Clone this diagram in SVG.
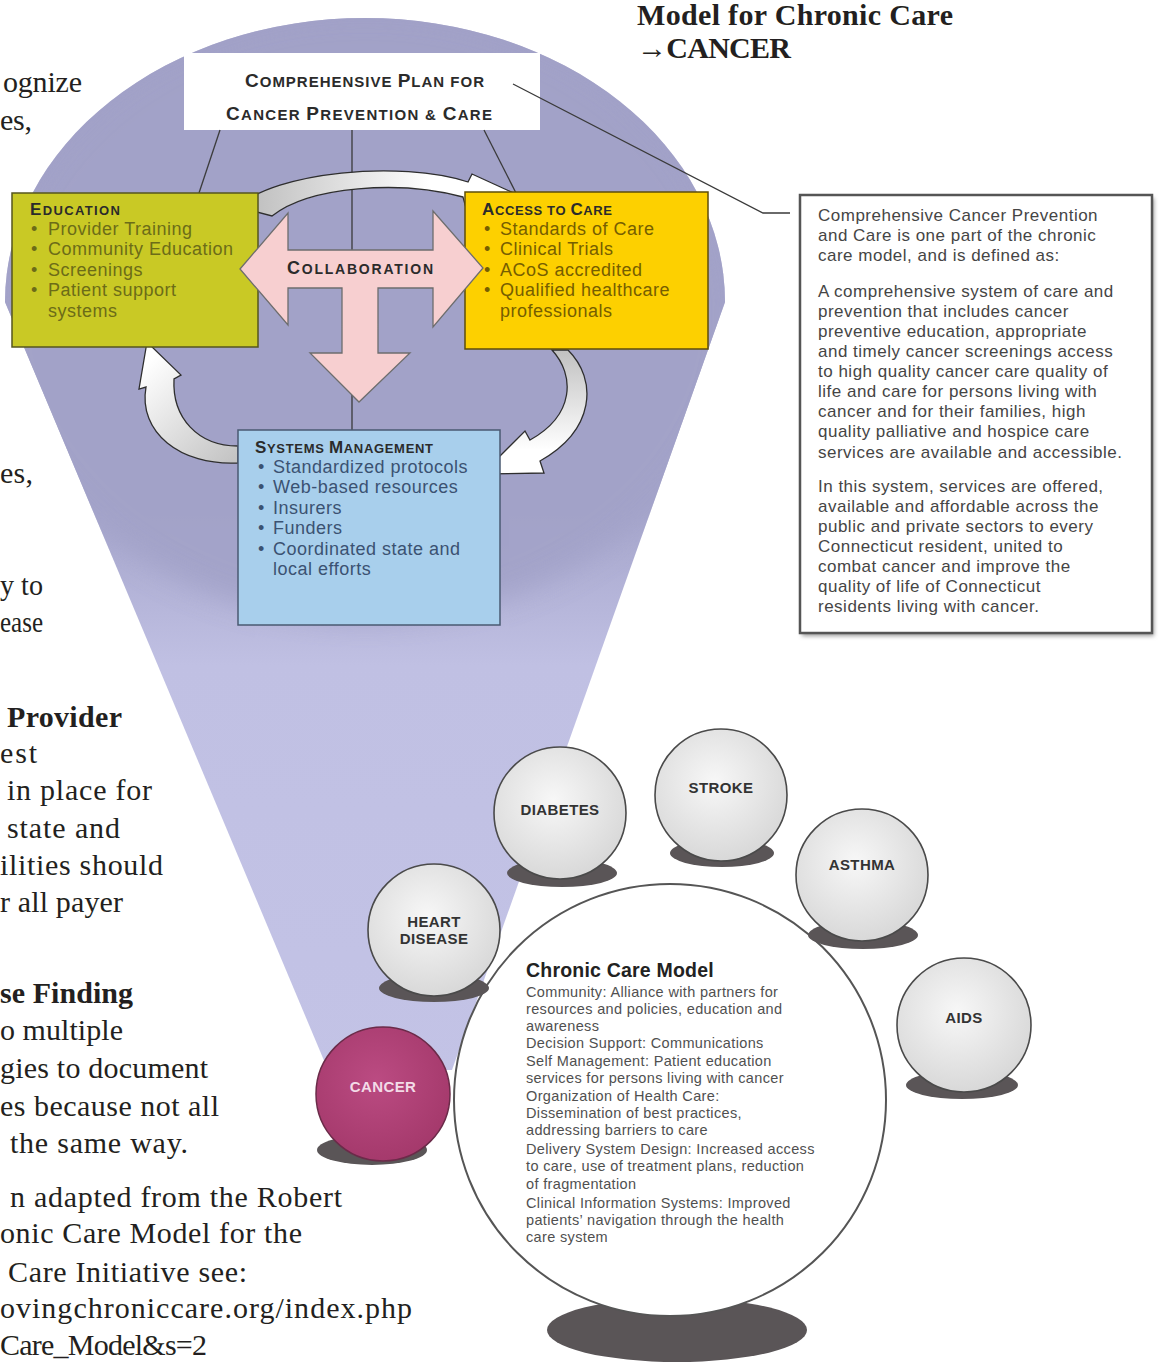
<svg xmlns="http://www.w3.org/2000/svg" width="1160" height="1364" viewBox="0 0 1160 1364">
<defs>
  <linearGradient id="coneGrad" gradientUnits="userSpaceOnUse" x1="0" y1="14" x2="0" y2="1100">
    <stop offset="0" stop-color="#a09fc6"/>
    <stop offset="0.45" stop-color="#a5a5cb"/>
    <stop offset="0.6" stop-color="#c0c0e3"/>
    <stop offset="1" stop-color="#c3c3e6"/>
  </linearGradient>
  <clipPath id="coneClip"><path d="M5,302 A360,284 0 0 1 725,302 L452,1070 L328,1070 Z"/></clipPath>
  <filter id="soft" x="-20%" y="-20%" width="140%" height="140%"><feGaussianBlur stdDeviation="14"/></filter>
  <filter id="sh" x="-20%" y="-20%" width="140%" height="140%"><feGaussianBlur stdDeviation="2"/></filter>
  <radialGradient id="ball" cx="0.45" cy="0.4" r="0.65">
    <stop offset="0" stop-color="#f7f7f7"/>
    <stop offset="1" stop-color="#d6d6d6"/>
  </radialGradient>
  <radialGradient id="cancerBall" cx="0.45" cy="0.4" r="0.65">
    <stop offset="0" stop-color="#bb4b82"/>
    <stop offset="1" stop-color="#a3386a"/>
  </radialGradient>
  <linearGradient id="gA" gradientUnits="userSpaceOnUse" x1="245" y1="0" x2="430" y2="0">
    <stop offset="0" stop-color="#bdbdbd"/>
    <stop offset="1" stop-color="#ffffff"/>
  </linearGradient>
  <linearGradient id="gB" gradientUnits="userSpaceOnUse" x1="0" y1="352" x2="0" y2="450">
    <stop offset="0" stop-color="#c2c2c2"/>
    <stop offset="1" stop-color="#ffffff"/>
  </linearGradient>
  <linearGradient id="gC" gradientUnits="userSpaceOnUse" x1="238" y1="455" x2="150" y2="360">
    <stop offset="0" stop-color="#c4c4c4"/>
    <stop offset="1" stop-color="#ffffff"/>
  </linearGradient>
</defs>
<style>
  .body{font-family:"Liberation Serif","Times New Roman",serif;font-size:30px;fill:#231f20}
  .b{font-weight:bold}
  .sc{font-family:"Liberation Sans",Arial,sans-serif;font-weight:bold;fill:#2b2b2b}
  .item{font-family:"Liberation Sans",Arial,sans-serif;font-size:18px;letter-spacing:0.5px}
  .edu{fill:#6c6c18}
  .acc{fill:#765e00}
  .sys{fill:#3b5272}
  .def{font-family:"Liberation Sans",Arial,sans-serif;font-size:17px;letter-spacing:0.5px;fill:#454545}
  .ccm{font-family:"Liberation Sans",Arial,sans-serif;font-size:14.5px;letter-spacing:0.35px;fill:#505050}
  .lbl{font-family:"Liberation Sans",Arial,sans-serif;font-size:15px;font-weight:bold;letter-spacing:0.4px;fill:#333;text-anchor:middle}
  .ln{stroke:#3a3a3a;stroke-width:1.3;fill:none}
  .shadow{fill:#5a5557}
  .disc{fill:url(#ball);stroke:#4a4a4a;stroke-width:1.6}
  .carr{stroke:#2e2e2e;stroke-width:1.3}
</style>

<!-- left body text fragments -->
<g id="body-text">
  <text class="body" x="3" y="92" textLength="79">ognize</text>
  <text class="body" x="0" y="130" textLength="32">es,</text>
  <text class="body" x="0" y="483" textLength="33">es,</text>
  <text class="body" x="0" y="595" textLength="43" lengthAdjust="spacingAndGlyphs">y to</text>
  <text class="body" x="0" y="632" textLength="43" lengthAdjust="spacingAndGlyphs">ease</text>
  <text class="body b" x="7" y="727" textLength="115">Provider</text>
  <text class="body" x="0" y="763" textLength="37">est</text>
  <text class="body" x="7" y="800" textLength="145">in place for</text>
  <text class="body" x="7" y="838" textLength="113">state and</text>
  <text class="body" x="0" y="875" textLength="163">ilities should</text>
  <text class="body" x="0" y="912" textLength="123">r all payer</text>
  <text class="body b" x="0" y="1003" textLength="133">se Finding</text>
  <text class="body" x="0" y="1040" textLength="123">o multiple</text>
  <text class="body" x="0" y="1078" textLength="208">gies to document</text>
  <text class="body" x="0" y="1116" textLength="219">es because not all</text>
  <text class="body" x="10" y="1153" textLength="178">the same way.</text>
  <text class="body" x="10" y="1207" textLength="332">n adapted from the Robert</text>
  <text class="body" x="0" y="1243" textLength="302">onic Care Model for the</text>
  <text class="body" x="8" y="1282" textLength="239">Care Initiative see:</text>
  <text class="body" x="0" y="1318" textLength="412">ovingchroniccare.org/index.php</text>
  <text class="body" x="0" y="1355" textLength="207">Care_Model&amp;s=2</text>
</g>

<g id="title">
  <text class="body b" x="637" y="25" font-size="28" textLength="316">Model for Chronic Care</text>
  <text class="body b" x="637" y="58" font-size="28" textLength="154">→CANCER</text>
</g>

<!-- cone / dome background -->
<g id="cone">
  <path d="M5,302 A360,284 0 0 1 725,302 L452,1070 L328,1070 Z" fill="url(#coneGrad)"/>
  <g clip-path="url(#coneClip)">
    <ellipse cx="365" cy="315" rx="370" ry="305" fill="#a2a2c8" filter="url(#soft)" opacity="0.9"/>
  </g>
</g>

<!-- plan box -->
<g id="plan">
  <rect x="184" y="53" width="356" height="77" fill="#ffffff"/>
  <text class="sc" x="245" y="87" textLength="239"><tspan font-size="19">C</tspan><tspan font-size="15">OMPREHENSIVE </tspan><tspan font-size="19">P</tspan><tspan font-size="15">LAN FOR</tspan></text>
  <text class="sc" x="226" y="120" textLength="266"><tspan font-size="19">C</tspan><tspan font-size="15">ANCER </tspan><tspan font-size="19">P</tspan><tspan font-size="15">REVENTION &amp; </tspan><tspan font-size="19">C</tspan><tspan font-size="15">ARE</tspan></text>
</g>

<!-- connectors -->
<g id="connectors">
  <line class="ln" x1="220" y1="130" x2="199" y2="193"/>
  <line class="ln" x1="352" y1="130" x2="352" y2="431"/>
  <line class="ln" x1="484" y1="130" x2="516" y2="193"/>
  <polyline class="ln" points="513,84 763,213 790,213"/>
  <path class="carr" fill="url(#gA)" d="M238,207 C275,172 400,160 468,182 L472,174 L518,195 L466,208 L463,197 C400,180 310,186 272,216 Z"/>
  <path class="carr" fill="url(#gB)" d="M552,350 C575,375 575,415 530,440 L525,431 L482,474 L544,473 L540,461 C595,430 598,380 568,350 Z"/>
  <path class="carr" fill="url(#gC)" d="M238,463 C180,466 138,432 146,387 L139,389 L147,342 L181,375 L174,379 C172,418 198,446 238,446 Z"/>
</g>

<g id="education">
  <rect x="12" y="193" width="246" height="154" fill="#c9c925" stroke="#55551e" stroke-width="1.5"/>
  <text class="sc" x="30" y="215" textLength="90"><tspan font-size="17">E</tspan><tspan font-size="13">DUCATION</tspan></text>
  <text class="item edu" x="31" y="235">•</text><text class="item edu" x="48" y="235">Provider Training</text>
  <text class="item edu" x="31" y="255">•</text><text class="item edu" x="48" y="255">Community Education</text>
  <text class="item edu" x="31" y="276">•</text><text class="item edu" x="48" y="276">Screenings</text>
  <text class="item edu" x="31" y="296">•</text><text class="item edu" x="48" y="296">Patient support</text>
  <text class="item edu" x="48" y="317">systems</text>
</g>

<g id="access">
  <rect x="465" y="192" width="243" height="157" fill="#fdd000" stroke="#5e4d0a" stroke-width="1.5"/>
  <text class="sc" x="482" y="215" textLength="130"><tspan font-size="17">A</tspan><tspan font-size="13">CCESS TO </tspan><tspan font-size="17">C</tspan><tspan font-size="13">ARE</tspan></text>
  <text class="item acc" x="484" y="235">•</text><text class="item acc" x="500" y="235">Standards of Care</text>
  <text class="item acc" x="484" y="255">•</text><text class="item acc" x="500" y="255">Clinical Trials</text>
  <text class="item acc" x="484" y="276">•</text><text class="item acc" x="500" y="276">ACoS accredited</text>
  <text class="item acc" x="484" y="296">•</text><text class="item acc" x="500" y="296">Qualified healthcare</text>
  <text class="item acc" x="500" y="317">professionals</text>
</g>

<g id="collaboration">
  <polygon points="240,269 288,213 288,250 433,250 433,211 483,268 433,327 433,288 378,288 378,353 410,353 359,402 310,353 342,353 342,288 288,288 288,325" fill="#f7cfd0" stroke="#6d6d6d" stroke-width="1.3"/>
  <text class="sc" x="287" y="274" textLength="146"><tspan font-size="18">C</tspan><tspan font-size="14">OLLABORATION</tspan></text>
</g>

<g id="systems">
  <rect x="238" y="430" width="262" height="195" fill="#a8cfec" stroke="#4a5a72" stroke-width="1.5"/>
  <text class="sc" x="255" y="453" textLength="178"><tspan font-size="17">S</tspan><tspan font-size="13">YSTEMS </tspan><tspan font-size="17">M</tspan><tspan font-size="13">ANAGEMENT</tspan></text>
  <text class="item sys" x="258" y="473">•</text><text class="item sys" x="273" y="473">Standardized protocols</text>
  <text class="item sys" x="258" y="493">•</text><text class="item sys" x="273" y="493">Web-based resources</text>
  <text class="item sys" x="258" y="514">•</text><text class="item sys" x="273" y="514">Insurers</text>
  <text class="item sys" x="258" y="534">•</text><text class="item sys" x="273" y="534">Funders</text>
  <text class="item sys" x="258" y="555">•</text><text class="item sys" x="273" y="555">Coordinated state and</text>
  <text class="item sys" x="273" y="575">local efforts</text>
</g>

<g id="definition">
  <rect x="802" y="198" width="352" height="438" fill="#9a9a9a" filter="url(#sh)"/>
  <rect x="800" y="195" width="352" height="438" fill="#ffffff" stroke="#555" stroke-width="2.5"/>
  <text class="def" x="818" y="221">Comprehensive Cancer Prevention</text>
  <text class="def" x="818" y="241">and Care is one part of the chronic</text>
  <text class="def" x="818" y="261">care model, and is defined as:</text>
  <text class="def" x="818" y="297">A comprehensive system of care and</text>
  <text class="def" x="818" y="317">prevention that includes cancer</text>
  <text class="def" x="818" y="337">preventive education, appropriate</text>
  <text class="def" x="818" y="357">and timely cancer screenings access</text>
  <text class="def" x="818" y="377">to high quality cancer care quality of</text>
  <text class="def" x="818" y="397">life and care for persons living with</text>
  <text class="def" x="818" y="417">cancer and for their families, high</text>
  <text class="def" x="818" y="437">quality palliative and hospice care</text>
  <text class="def" x="818" y="458">services are available and accessible.</text>
  <text class="def" x="818" y="492">In this system, services are offered,</text>
  <text class="def" x="818" y="512">available and affordable across the</text>
  <text class="def" x="818" y="532">public and private sectors to every</text>
  <text class="def" x="818" y="552">Connecticut resident, united to</text>
  <text class="def" x="818" y="572">combat cancer and improve the</text>
  <text class="def" x="818" y="592">quality of life of Connecticut</text>
  <text class="def" x="818" y="612">residents living with cancer.</text>
</g>

<g id="chronic-care-model">
  <ellipse class="shadow" cx="677" cy="1330" rx="130" ry="32"/>
  <circle cx="670" cy="1100" r="216" fill="#ffffff" stroke="#555" stroke-width="2"/>
  <text x="526" y="977" font-family="Liberation Sans, Arial, sans-serif" font-size="19.5" font-weight="bold" fill="#222" letter-spacing="0.2">Chronic Care Model</text>
  <text class="ccm" x="526" y="997">Community: Alliance with partners for</text>
  <text class="ccm" x="526" y="1014">resources and policies, education and</text>
  <text class="ccm" x="526" y="1031">awareness</text>
  <text class="ccm" x="526" y="1048">Decision Support: Communications</text>
  <text class="ccm" x="526" y="1066">Self Management: Patient education</text>
  <text class="ccm" x="526" y="1083">services for persons living with cancer</text>
  <text class="ccm" x="526" y="1101">Organization of Health Care:</text>
  <text class="ccm" x="526" y="1118">Dissemination of best practices,</text>
  <text class="ccm" x="526" y="1135">addressing barriers to care</text>
  <text class="ccm" x="526" y="1154">Delivery System Design: Increased access</text>
  <text class="ccm" x="526" y="1171">to care, use of treatment plans, reduction</text>
  <text class="ccm" x="526" y="1189">of fragmentation</text>
  <text class="ccm" x="526" y="1208">Clinical Information Systems: Improved</text>
  <text class="ccm" x="526" y="1225">patients’ navigation through the health</text>
  <text class="ccm" x="526" y="1242">care system</text>
</g>

<g id="heart-disease">
  <ellipse class="shadow" cx="434" cy="988" rx="55" ry="14"/>
  <circle class="disc" cx="434" cy="930" r="66"/>
  <text class="lbl" x="434" y="927">HEART</text>
  <text class="lbl" x="434" y="944">DISEASE</text>
</g>
<g id="diabetes">
  <ellipse class="shadow" cx="562" cy="873" rx="55" ry="14"/>
  <circle class="disc" cx="560" cy="813" r="66"/>
  <text class="lbl" x="560" y="815">DIABETES</text>
</g>
<g id="stroke">
  <ellipse class="shadow" cx="722" cy="853" rx="52" ry="14"/>
  <circle class="disc" cx="721" cy="795" r="66"/>
  <text class="lbl" x="721" y="793">STROKE</text>
</g>
<g id="asthma">
  <ellipse class="shadow" cx="863" cy="935" rx="55" ry="14"/>
  <circle class="disc" cx="862" cy="875" r="66"/>
  <text class="lbl" x="862" y="870">ASTHMA</text>
</g>
<g id="aids">
  <ellipse class="shadow" cx="962" cy="1085" rx="56" ry="14"/>
  <circle class="disc" cx="964" cy="1025" r="67"/>
  <text class="lbl" x="964" y="1023">AIDS</text>
</g>
<g id="cancer">
  <ellipse class="shadow" cx="372" cy="1150" rx="55" ry="15"/>
  <circle cx="383" cy="1094" r="67" fill="url(#cancerBall)" stroke="#6b2b49" stroke-width="1.5"/>
  <text class="lbl" x="383" y="1092" style="fill:#f3dbe7">CANCER</text>
</g>
</svg>
